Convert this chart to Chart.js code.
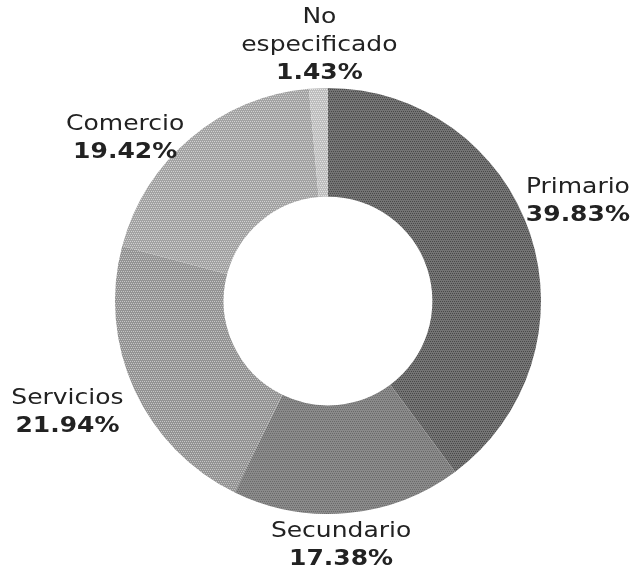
<!DOCTYPE html>
<html>
<head>
<meta charset="utf-8">
<script src="https://cdn.jsdelivr.net/npm/chart.js@4.4.1/dist/chart.umd.min.js"></script>
<style>
  html, body { margin: 0; padding: 0; background: #fff; }
  #wrap { width: 637px; height: 573px; }
</style>
</head>
<body>
<div id="wrap"><canvas id="myChart" width="637" height="573"></canvas></div>
<script>
// datos del gráfico
var categorias = ['Primario', 'Secundario', 'Servicios', 'Comercio', 'No especificado'];
var porcentajes = [39.83, 17.38, 21.94, 19.42, 1.43];
// nombres como aparecen en las etiquetas (con saltos de línea)
var etiquetas = [['Primario'], ['Secundario'], ['Servicios'], ['Comercio'], ['No', 'especificado']];

// tramas grises que imitan el punteado de la imagen
function trama(base, linea) {
  var c = document.createElement('canvas');
  c.width = 4; c.height = 4;
  var g = c.getContext('2d');
  g.fillStyle = base; g.fillRect(0, 0, 4, 4);
  g.fillStyle = linea;
  g.fillRect(0, 1, 1, 1); g.fillRect(2, 1, 1, 1);
  g.fillRect(1, 3, 1, 1); g.fillRect(3, 3, 1, 1);
  return g.createPattern(c, 'repeat');
}
var colores = [
  trama('#747474', '#4a4a4a'),
  trama('#8a8a8a', '#6a6a6a'),
  trama('#939393', '#c4c4c4'),
  trama('#a2a2a2', '#cfcfcf'),
  trama('#bdbdbd', '#e4e4e4')
];

// ajuste de cada etiqueta respecto a su posición en el ángulo medio
var desplaz = [[4, -18], [-11, -13], [-25, 4], [-36, 36], [3, 3]];

var etiquetasPlugin = {
  id: 'etiquetas',
  afterDraw: function(chart) {
    var ctx = chart.ctx;
    var arcs = chart.getDatasetMeta(0).data;
    var salto = 28;
    ctx.save();
    ctx.textAlign = 'center';
    ctx.textBaseline = 'middle';
    ctx.fillStyle = '#222';
    // la fuente original es más ancha: se estira en horizontal
    function texto(t, x, y) {
      ctx.save();
      ctx.translate(x, y);
      ctx.scale(1.19, 1);
      ctx.fillText(t, 0, 0);
      ctx.restore();
    }
    arcs.forEach(function(arc, i) {
      var p = arc.getProps(['x', 'y', 'startAngle', 'endAngle', 'outerRadius'], true);
      var mid = (p.startAngle + p.endAngle) / 2;
      var r = p.outerRadius + 46;
      var x = p.x + Math.cos(mid) * r + desplaz[i][0];
      var y = p.y + Math.sin(mid) * r + desplaz[i][1];
      var lineas = etiquetas[i];
      var total = lineas.length + 1;
      var y0 = y - (total - 1) * salto / 2;
      ctx.font = '21px "DejaVu Sans"';
      lineas.forEach(function(t, k) { texto(t, x, y0 + k * salto); });
      ctx.font = 'bold 21px "DejaVu Sans"';
      texto(porcentajes[i].toFixed(2) + '%', x, y0 + lineas.length * salto);
    });
    ctx.restore();
  }
};

var ctx1 = document.getElementById('myChart').getContext('2d');
var myChart = new Chart(ctx1, {
  type: 'doughnut',
  data: {
    labels: categorias,
    datasets: [{
      data: porcentajes,
      backgroundColor: colores,
      borderWidth: 0
    }]
  },
  options: {
    responsive: false,
    animation: false,
    cutout: '49%',
    layout: { padding: { left: 115, right: 96, top: 88, bottom: 59 } },
    plugins: {
      legend: { display: false },
      tooltip: { enabled: false }
    }
  },
  plugins: [etiquetasPlugin]
});
</script>
</body>
</html>
